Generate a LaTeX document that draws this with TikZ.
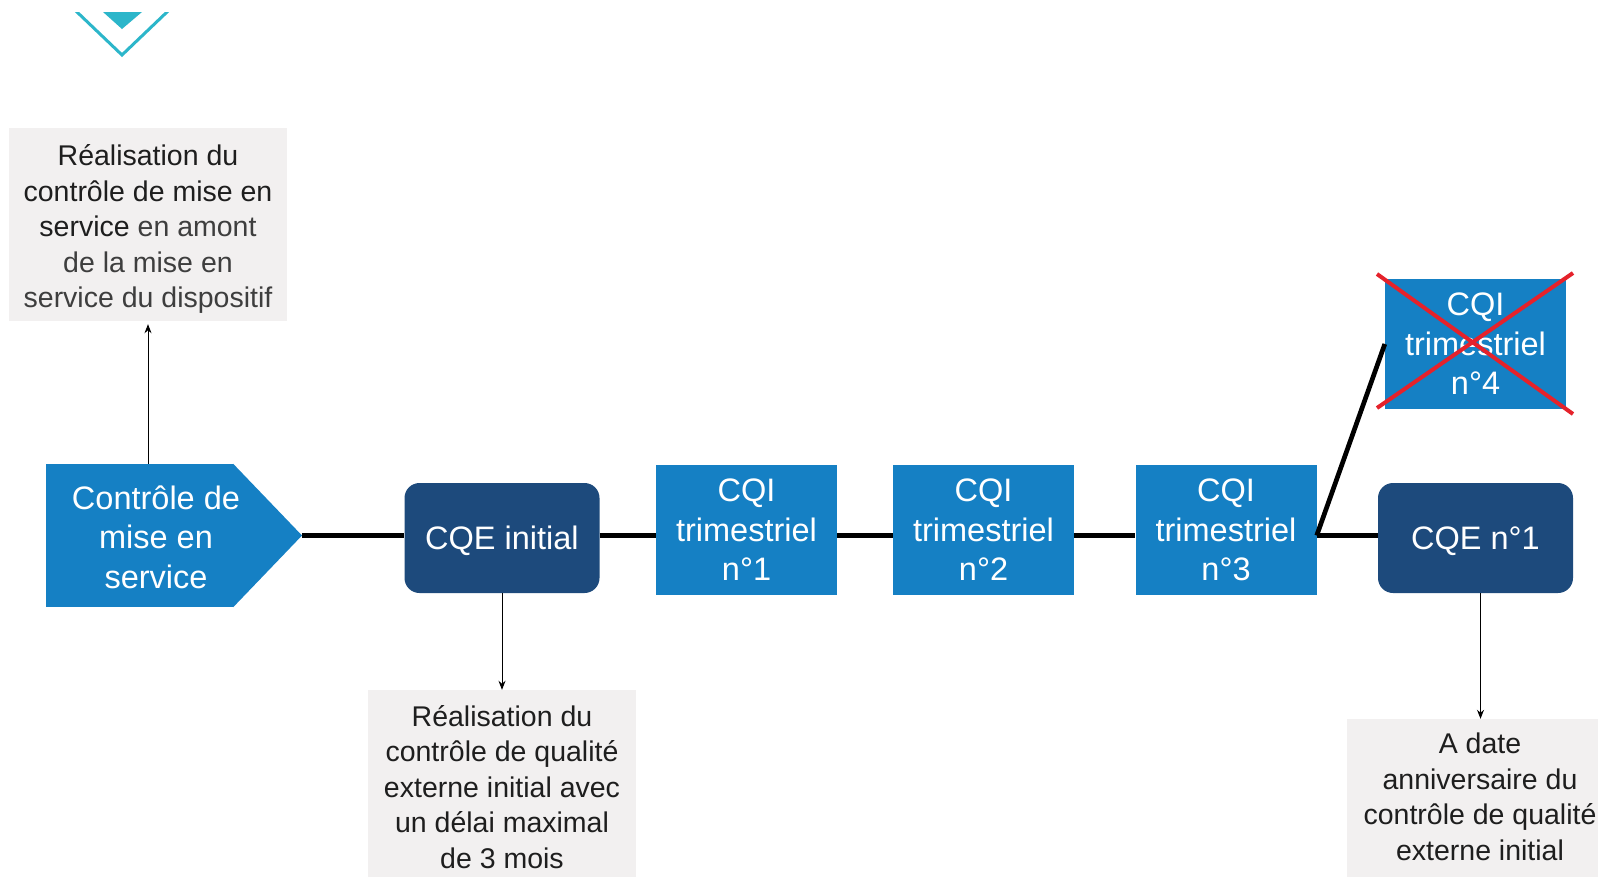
\documentclass[tikz,border=0pt]{standalone}
\usepackage{fontspec}
\setmainfont{Liberation Sans}
\usetikzlibrary{arrows.meta}

\definecolor{cqiblue}{HTML}{1580C4}
\definecolor{cqenavy}{HTML}{1D4A7C}
\definecolor{notegrey}{HTML}{F2F0F0}
\definecolor{chevron}{HTML}{2CB6CA}
\definecolor{crossred}{HTML}{E5222B}
\definecolor{softblack}{HTML}{1E1E1E}
\definecolor{softgrey}{HTML}{3E3E3E}

\begin{document}
\begin{tikzpicture}[x=1pt,y=-1pt,
  bluetext/.style={text=white, align=center, font=\fontsize{32.5}{39.5}\selectfont},
  cqi/.style={bluetext, fill=cqiblue, minimum width=181pt, minimum height=130pt, inner sep=0pt},
  cqe/.style={bluetext, fill=cqenavy, rounded corners=15pt, minimum width=195pt, minimum height=110pt, inner sep=0pt, text depth=0pt},
  notebox/.style={fill=notegrey, inner sep=0pt},
  notetext/.style={text=softblack, align=center, font=\fontsize{28.5}{35.5}\selectfont, inner sep=0pt},
  link/.style={line width=4.7pt, black},
  pointer/.style={line width=1pt, black, -{Stealth[length=9pt,width=7pt]}}
]
\useasboundingbox (0,0) rectangle (1598,876);
\fill[white] (0,0) rectangle (1598,876);

% chevron at the top
\begin{scope}
  \clip (0,12) rectangle (300,80);
  \fill[chevron] (103,12) -- (142,12) -- (122,29) -- cycle;
  \draw[chevron, line width=3pt] (66,1.5) -- (122,55) -- (178,1.5);
\end{scope}

% commissioning step (arrow-shaped block)
\node[fill=cqiblue, minimum width=187pt, minimum height=143pt, inner sep=0pt] (mesbody) at (139.5,535.5) {};
\fill[cqiblue] (mesbody.north east) -- (302,535.5) -- (mesbody.south east) -- cycle;
\coordinate (mestip) at (302,535.5);
\node[bluetext] (mes) at (156,537) {Contrôle de\\mise en\\service};

% timeline blocks
\node[cqe] (cqe0) at (502,538) {CQE initial};
\node[cqi] (cqi1) at (746.5,530) {CQI\\trimestriel\\n°1};
\node[cqi] (cqi2) at (983.5,530) {CQI\\trimestriel\\n°2};
\node[cqi] (cqi3) at (1226,530) {CQI\\trimestriel\\n°3};
\node[cqi] (cqi4) at (1475.5,344) {CQI\\trimestriel\\n°4};
\node[cqe] (cqe1) at (1475.5,538) {CQE n°1};

% the fourth quarterly check is struck out
\draw[crossred, line width=4pt] (1377,274) -- (1573,414);
\draw[crossred, line width=4pt] (1377,408) -- (1573,273);

% links along the timeline
\draw[link] (mestip) -- (cqe0.west |- mestip);
\draw[link] (cqe0.east |- mestip) -- (cqi1.west |- mestip);
\draw[link] (cqi1.east |- mestip) -- (cqi2.west |- mestip);
\draw[link] (cqi2.east |- mestip) -- (cqi3.west |- mestip);
\draw[link] (cqi3.east |- mestip) -- (cqe1.west |- mestip);
\draw[link] (cqi3.east |- mestip) -- (cqi4.west);

% explanatory notes: grey panels, then their texts
\node[notebox, minimum width=278pt, minimum height=193pt] (note1) at (148,224.5) {};
\node[notetext] (note1text) at (148,229)
  {Réalisation du\\contrôle de mise en\\service {\color{softgrey}en amont}\\{\color{softgrey}de la mise en}\\{\color{softgrey}service du dispositif}};
\node[notebox, minimum width=268pt, minimum height=200pt] (note2) at (502,790) {};
\node[notetext] (note2text) at (502,787)
  {Réalisation du\\contrôle de qualité\\externe initial avec\\un délai maximal\\de 3 mois};
\node[notebox, minimum width=266pt, minimum height=162pt] (note3) at (1480,800) {};
\node[notetext] (note3text) at (1480,797)
  {A date\\anniversaire du\\contrôle de qualité\\externe initial};

% pointers to the notes
\draw[pointer, shorten >=3pt] (mesbody.north -| note1.south) -- (note1.south);
\draw[pointer] (cqe0.south) -- (note2.north);
\draw[pointer] ([xshift=5pt]cqe1.south) -- ([xshift=5pt]cqe1.south |- note3.north);
\end{tikzpicture}
\end{document}
